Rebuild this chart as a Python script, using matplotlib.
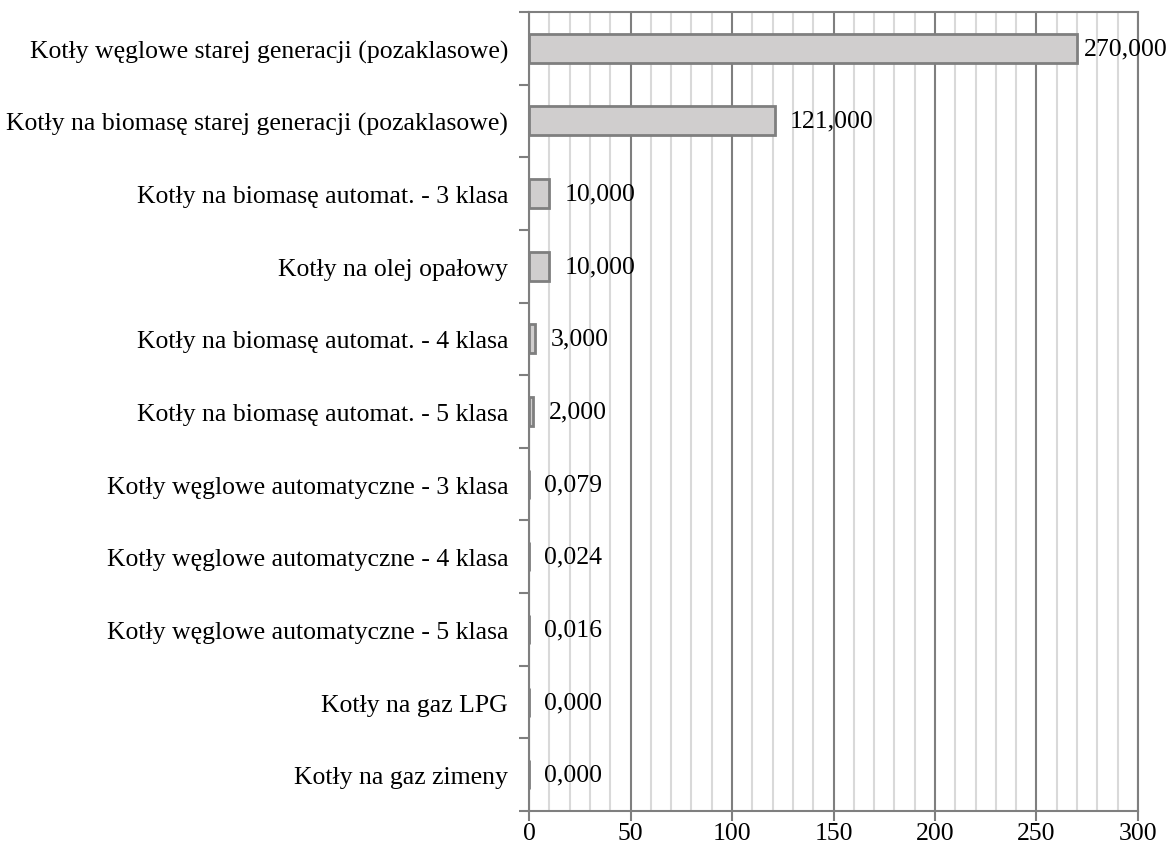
import numpy as np
import matplotlib.pyplot as plt
from matplotlib.ticker import MultipleLocator

plt.rcParams['font.family'] = ['Liberation Serif', 'DejaVu Serif']

categories = [
    'Kotły węglowe starej generacji (pozaklasowe)',
    'Kotły na biomasę starej generacji (pozaklasowe)',
    'Kotły na biomasę automat. - 3 klasa',
    'Kotły na olej opałowy',
    'Kotły na biomasę automat. - 4 klasa',
    'Kotły na biomasę automat. - 5 klasa',
    'Kotły węglowe automatyczne - 3 klasa',
    'Kotły węglowe automatyczne - 4 klasa',
    'Kotły węglowe automatyczne - 5 klasa',
    'Kotły na gaz LPG',
    'Kotły na gaz zimeny',
]
values = [270, 121, 10, 10, 3, 2, 0.079, 0.024, 0.016, 0.0, 0.0]

fig = plt.figure(figsize=(11.71, 8.54), dpi=100)
ax = fig.add_axes([0.4518, 0.0492, 0.52, 0.9356])

y = np.arange(len(categories))
ax.barh(y, values, height=0.4, color='#d0cece', edgecolor='#7f7f7f', linewidth=2, zorder=3)

for yi, v in zip(y, values):
    # label near the right edge is pulled in so it stays inside the figure
    off = 5 if v > 250 else 11
    ax.annotate(f'{v:.3f}'.replace('.', ','), (v, yi), xytext=(off, 0),
                textcoords='offset points', va='center', ha='left', fontsize=18.5)

ax.set_ylim(len(categories) - 0.5, -0.5)
ax.set_xlim(0, 300)
ax.set_yticks(y)
ax.set_yticklabels(categories, fontsize=18.5)
ax.yaxis.set_minor_locator(MultipleLocator(1, offset=0.5))
ax.tick_params(axis='y', which='major', length=0, pad=15)
ax.tick_params(axis='y', which='minor', length=7, width=1.5, color='#7f7f7f')

ax.xaxis.set_major_locator(MultipleLocator(50))
ax.xaxis.set_minor_locator(MultipleLocator(10))
ax.tick_params(axis='x', which='major', length=7, width=1.5, color='#7f7f7f', labelsize=18.5, pad=1)
ax.tick_params(axis='x', which='minor', length=0)
ax.grid(axis='x', which='minor', color='#d9d9d9', linewidth=1.5, zorder=0)
ax.grid(axis='x', which='major', color='#7f7f7f', linewidth=1.5, zorder=1)

for s in ax.spines.values():
    s.set_color('#7f7f7f')
    s.set_linewidth(1.5)

fig.savefig('out.png', dpi=100)
